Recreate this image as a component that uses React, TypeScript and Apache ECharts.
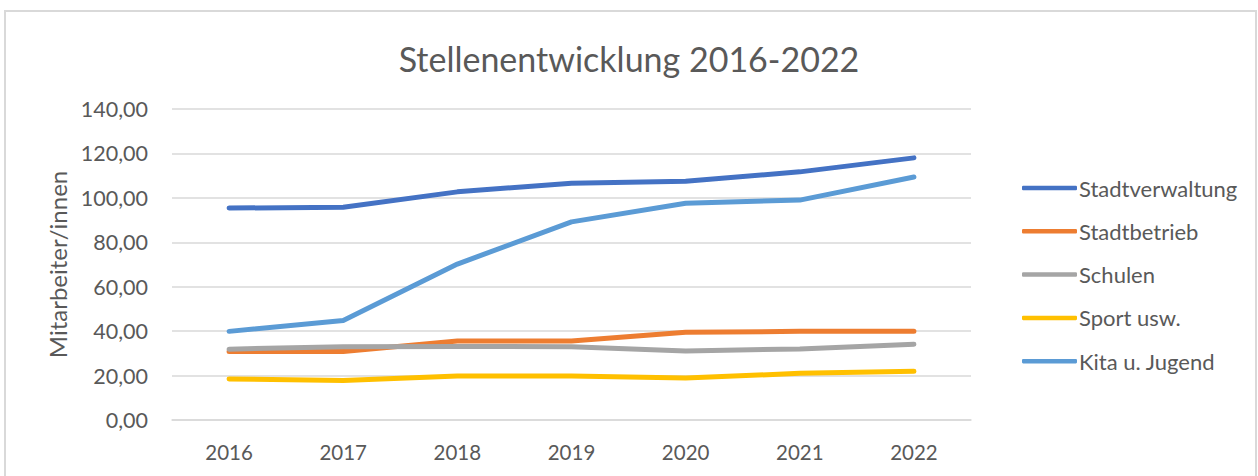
import React, { useEffect, useRef } from "react";
import * as echarts from "echarts";

const years = ["2016", "2017", "2018", "2019", "2020", "2021", "2022"];
const stadtverwaltung = [95.4, 95.8, 102.7, 106.6, 107.5, 111.7, 118.0];
const stadtbetrieb = [30.8, 30.8, 35.6, 35.6, 39.5, 39.9, 39.9];
const schulen = [31.9, 33.0, 33.1, 33.0, 31.1, 32.0, 34.1];
const sport = [18.5, 17.8, 19.8, 19.8, 18.9, 21.0, 21.9];
const kita = [39.9, 44.8, 70.2, 89.2, 97.6, 99.0, 109.4];

const seriesNames = ["Stadtverwaltung", "Stadtbetrieb", "Schulen", "Sport usw.", "Kita u. Jugend"];
const seriesColors = ["#4472C4", "#ED7D31", "#A5A5A5", "#FFC000", "#5B9BD5"];
const seriesData = [stadtverwaltung, stadtbetrieb, schulen, sport, kita];

const FONT = "Lato";

export default function App() {
  const ref = useRef<HTMLDivElement>(null);
  useEffect(() => {
    const chart = echarts.init(ref.current!, null, { renderer: "svg" });
    chart.setOption({
      animation: false,
      backgroundColor: "#ffffff",
      textStyle: { fontFamily: FONT },
      title: {
        text: "Stellenentwicklung 2016-2022",
        left: "center",
        top: 36,
        textStyle: { fontFamily: FONT, fontSize: 34, fontWeight: "normal", color: "#595959" },
      },
      graphic: [
        {
          type: "rect",
          shape: { x: 5, y: 11, width: 1251, height: 500 },
          style: { fill: "none", stroke: "#d9d9d9", lineWidth: 2 },
          silent: true,
        },
      ],
      legend: {
        orient: "vertical",
        left: 1017,
        top: 172,
        icon: "roundRect",
        itemWidth: 55,
        itemHeight: 4.5,
        itemGap: 21.3,
        textStyle: { fontFamily: FONT, fontSize: 22, color: "#595959", padding: [0, 0, 0, -3] },
        data: seriesNames,
      },
      grid: { left: 172, right: 287, top: 109, bottom: 56, containLabel: false },
      xAxis: {
        type: "category",
        data: years,
        boundaryGap: true,
        axisLine: { show: true, lineStyle: { color: "#d9d9d9", width: 1.5 } },
        axisTick: { show: false },
        axisLabel: { color: "#595959", fontSize: 20.5, fontFamily: FONT, margin: 21 },
      },
      yAxis: {
        type: "value",
        min: 0,
        max: 140,
        interval: 20,
        name: "Mitarbeiter/innen",
        nameLocation: "middle",
        nameGap: 101,
        nameTextStyle: { color: "#595959", fontSize: 24, fontFamily: FONT },
        axisLine: { show: false },
        axisTick: { show: false },
        splitLine: { lineStyle: { color: "#d9d9d9", width: 1.5 } },
        axisLabel: {
          color: "#595959",
          fontSize: 21.5,
          fontFamily: FONT,
          margin: 24,
          formatter: (v: number) => v.toFixed(2).replace(".", ","),
        },
      },
      series: seriesNames.map((name, i) => ({
        name,
        type: "line",
        data: seriesData[i],
        symbol: "none",
        color: seriesColors[i],
        itemStyle: { color: seriesColors[i] },
        lineStyle: { width: 5, color: seriesColors[i], cap: "round", join: "round" },
      })),
    });
    return () => chart.dispose();
  }, []);
  return (
    <div
      ref={ref}
      style={{ position: "absolute", left: 0, top: 0, width: 1258, height: 476 }}
    />
  );
}
